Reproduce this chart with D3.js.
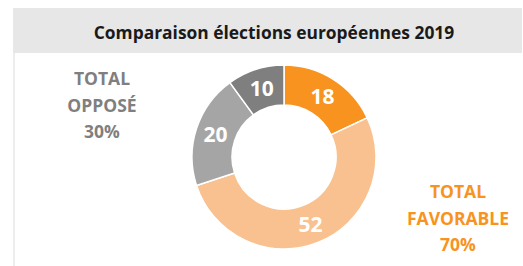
<!DOCTYPE html>
<html>
<head>
<meta charset="utf-8">
<script src="https://cdn.jsdelivr.net/npm/d3@7"></script>
<style>
  body { margin: 0; background: #fff; }
  svg { display: block; font-family: "Open Sans", "Noto Sans", sans-serif; }
</style>
</head>
<body>
<svg id="chart" width="523" height="266"></svg>
<script>
const svg = d3.select("#chart");

// data
const categories = ["Favorable 1", "Favorable 2", "Opposé 1", "Opposé 2"];
const values = [18, 52, 20, 10];
const colors = ["#F7931E", "#F9C18F", "#A5A5A5", "#7F7F7F"];
const titleText = "Comparaison élections européennes 2019";
const opposeLines = ["TOTAL", "OPPOSÉ", "30%"];
const favorableLines = ["TOTAL", "FAVORABLE", "70%"];

let cx = 284, cy = 157;
let outerR = 92, innerR = 52;

// header band + left border
svg.append("rect")
  .attr("x", 13).attr("y", 8)
  .attr("width", 509).attr("height", 45)
  .attr("fill", "#E7E7E7");

svg.append("rect")
  .attr("x", 13).attr("y", 53)
  .attr("width", 2).attr("height", 213)
  .attr("fill", "#EDEDED");

svg.append("text")
  .attr("x", 274).attr("y", 39)
  .attr("text-anchor", "middle")
  .attr("font-weight", "bold")
  .attr("font-size", 17.4)
  .attr("fill", "#1a1a1a")
  .text(titleText);

// donut
const pie = d3.pie().sort(null).value(function (d) { return d; });
const arc = d3.arc().innerRadius(innerR).outerRadius(outerR);
const labelArc = d3.arc().innerRadius(innerR).outerRadius(outerR);

const g = svg.append("g").attr("transform", "translate(" + cx + "," + cy + ")");

g.selectAll(".slice")
  .data(pie(values))
  .enter().append("path")
  .attr("class", "slice")
  .attr("d", arc)
  .attr("fill", function (d, i) { return colors[i]; })
  .attr("stroke", "#fff")
  .attr("stroke-width", 1.5);

g.selectAll(".val")
  .data(pie(values))
  .enter().append("text")
  .attr("class", "val")
  .attr("transform", function (d) { return "translate(" + labelArc.centroid(d) + ")"; })
  .attr("dy", "0.36em")
  .attr("text-anchor", "middle")
  .attr("font-weight", "bold")
  .attr("font-size", 21)
  .attr("fill", "#fff")
  .text(function (d) { return d.data; });

// side totals
function drawTotal(lines, x, y0, color) {
  svg.selectAll(null)
    .data(lines)
    .enter().append("text")
    .attr("x", x)
    .attr("y", function (d, i) { return y0 + i * 26.5; })
    .attr("text-anchor", "middle")
    .attr("font-weight", "bold")
    .attr("font-size", 17.5)
    .attr("fill", color)
    .text(function (d) { return d; });
}

drawTotal(opposeLines, 102, 85, "#7F7F7F");
drawTotal(favorableLines, 458, 198, "#F7931E");
</script>
</body>
</html>
